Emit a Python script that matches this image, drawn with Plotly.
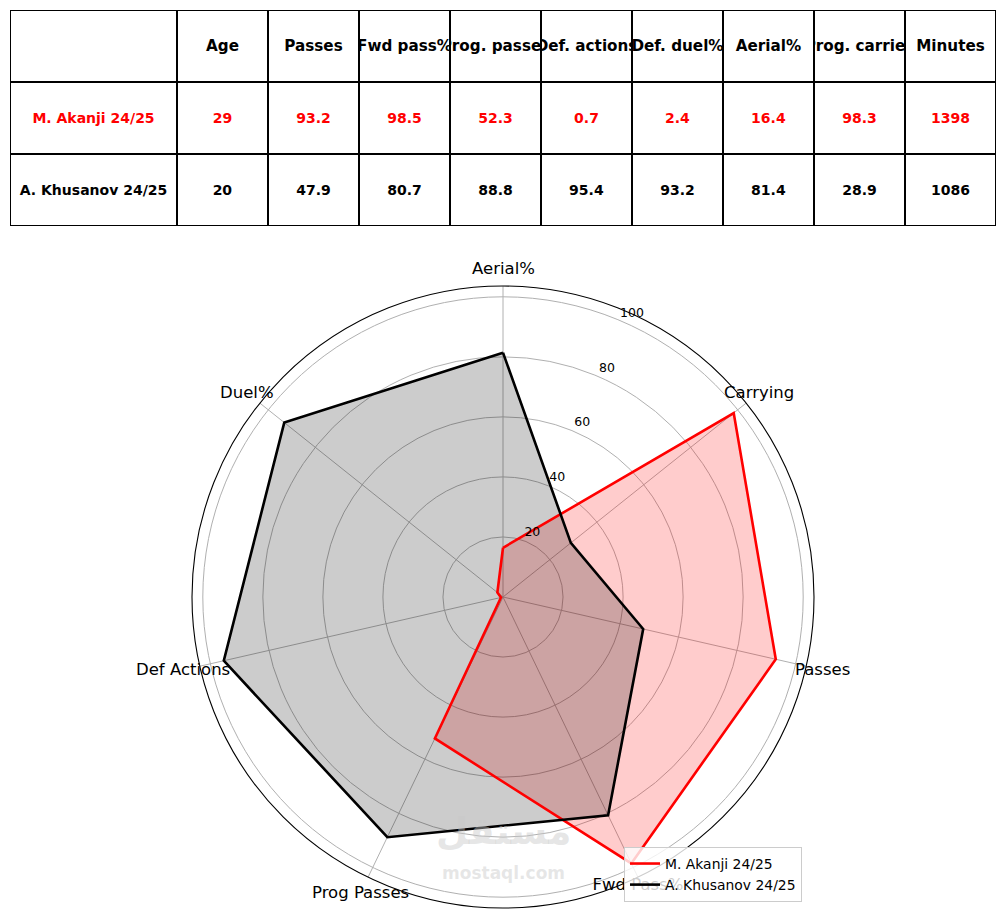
import math
import plotly.graph_objects as go

# ---------------- data ----------------
categories = ["Aerial%", "Carrying", "Passes", "Fwd Pass%", "Prog Passes", "Def Actions", "Duel%"]
akanji_vals = [16.4, 98.3, 93.2, 98.5, 52.3, 0.7, 2.4]
khusanov_vals = [81.4, 28.9, 47.9, 80.7, 88.8, 95.4, 93.2]
series_names = ["M. Akanji 24/25", "A. Khusanov 24/25"]

table_header = ["", "Age", "Passes", "Fwd pass%", "Prog. passes", "Def. actions",
                "Def. duel%", "Aerial%", "Prog. carries", "Minutes"]
akanji_row = ["M. Akanji 24/25", "29", "93.2", "98.5", "52.3", "0.7", "2.4", "16.4", "98.3", "1398"]
khusanov_row = ["A. Khusanov 24/25", "20", "47.9", "80.7", "88.8", "95.4", "93.2", "81.4", "28.9", "1086"]
radial_ticks = [20, 40, 60, 80, 100]

# ---------------- layout constants ----------------
OFF = 8                      # page body margin
W, H = 1005 - OFF, 913 - OFF
FONT = "DejaVu Sans"
col_widths = [167] + [91.0] * 9
table_left = 10
row_tops = [10, 82, 154]
row_h = 71.7
R_MAX = 103.6
POLAR_CX, POLAR_CY, POLAR_R = 503, 597, 311   # polar area centre / radius (px)
LABEL_R_PX = 328                              # distance of category labels from centre
RLABEL_ANGLE = 24.5         # angular position of radial tick labels
RLABEL_PAD = 3.6
LINE_W = 2.6


def px(x):
    return (x - OFF) / W


def py(y):
    return 1 - (y - OFF) / H


n = len(categories)
angles = [i * 360.0 / n for i in range(n)]

fig = go.Figure()

colors = ["#ff0000", "#000000"]
fills = ["rgba(255,0,0,0.2)", "rgba(0,0,0,0.2)"]
for vals, fc in zip([akanji_vals, khusanov_vals], fills):
    fig.add_trace(go.Scatterpolar(r=vals + [vals[0]], theta=angles + [angles[0]], mode="none",
                                  fill="toself", fillcolor=fc, showlegend=False, hoverinfo="skip"))
for name, vals, c in zip(series_names, [akanji_vals, khusanov_vals], colors):
    fig.add_trace(go.Scatterpolar(r=vals + [vals[0]], theta=angles + [angles[0]], mode="lines",
                                  name=name, line=dict(color=c, width=LINE_W)))

# radial tick labels
fig.add_trace(go.Scatterpolar(r=[t + RLABEL_PAD for t in radial_ticks],
                              theta=[RLABEL_ANGLE] * len(radial_ticks), mode="text",
                              text=[str(t) for t in radial_ticks], textposition="middle center",
                              cliponaxis=False, showlegend=False, hoverinfo="skip",
                              textfont=dict(family=FONT, size=12.5, color="black")))

annotations = []
# category labels (centred just outside the outer circle, like matplotlib);
# the bottom-right one sits under the legend, so it is drawn as trace text
for cat, a in zip(categories, angles):
    if cat == "Fwd Pass%":
        fig.add_trace(go.Scatterpolar(r=[R_MAX], theta=[a], mode="text", text=[cat],
                                      textposition="bottom center", cliponaxis=False,
                                      showlegend=False, hoverinfo="skip",
                                      textfont=dict(family=FONT, size=16.5, color="black")))
        continue
    rad = math.radians(a)
    lx = POLAR_CX + LABEL_R_PX * math.sin(rad)
    ly = POLAR_CY - LABEL_R_PX * math.cos(rad)
    annotations.append(dict(x=px(lx), y=py(ly), xref="paper", yref="paper", text=cat,
                            showarrow=False, xanchor="center", yanchor="middle",
                            font=dict(family=FONT, size=16.5, color="black")))

# ---------------- table via annotations ----------------
rows = [(table_header, "#000000", 15.2), (akanji_row, "#ff0000", 14.0), (khusanov_row, "#000000", 14.0)]
for ri, (row, tcolor, fs) in enumerate(rows):
    x0 = table_left
    top = row_tops[ri]
    for ci, txt in enumerate(row):
        cw = col_widths[ci]
        annotations.append(dict(
            x=px(x0 + cw / 2), y=py(top + row_h / 2), xref="paper", yref="paper",
            xanchor="center", yanchor="middle",
            text="<b>%s</b>" % txt if txt else "", showarrow=False,
            width=cw - 2, height=row_h - 2, borderpad=0, borderwidth=1,
            bordercolor="#000000", bgcolor="#ffffff", align="center",
            font=dict(family=FONT, size=fs, color=tcolor)))
        x0 += cw

# watermark
annotations.append(dict(x=px(503), y=py(855), xref="paper", yref="paper", text="<b>مستقل</b>",
                        showarrow=False, font=dict(family=FONT, size=37, color="rgba(200,200,200,0.45)")))
annotations.append(dict(x=px(503), y=py(885), xref="paper", yref="paper", text="<b>mostaql.com</b>",
                        showarrow=False, font=dict(family=FONT, size=17, color="rgba(200,200,200,0.45)")))

fig.update_layout(
    width=W, height=H,
    margin=dict(l=0, r=0, t=0, b=0),
    paper_bgcolor="white", plot_bgcolor="white",
    font=dict(family=FONT, color="black"),
    annotations=annotations,
    polar=dict(
        domain=dict(x=[px(POLAR_CX - POLAR_R), px(POLAR_CX + POLAR_R)],
                    y=[py(POLAR_CY + POLAR_R), py(POLAR_CY - POLAR_R)]),
        bgcolor="white",
        angularaxis=dict(rotation=90, direction="clockwise", type="linear",
                         tickvals=angles, showticklabels=False,
                         showline=True, linecolor="black", linewidth=1.1,
                         gridcolor="#b0b0b0", gridwidth=1, ticks=""),
        radialaxis=dict(range=[0, R_MAX], tickvals=radial_ticks, showline=False,
                        showticklabels=False, gridcolor="#b0b0b0", gridwidth=1, ticks=""),
    ),
    legend=dict(x=px(624), y=py(847), xanchor="left", yanchor="top",
                bgcolor="rgba(255,255,255,0.8)", bordercolor="#cccccc", borderwidth=1,
                font=dict(family=FONT, size=13.9, color="black"), itemwidth=30),
)

fig.write_html("out.html")
